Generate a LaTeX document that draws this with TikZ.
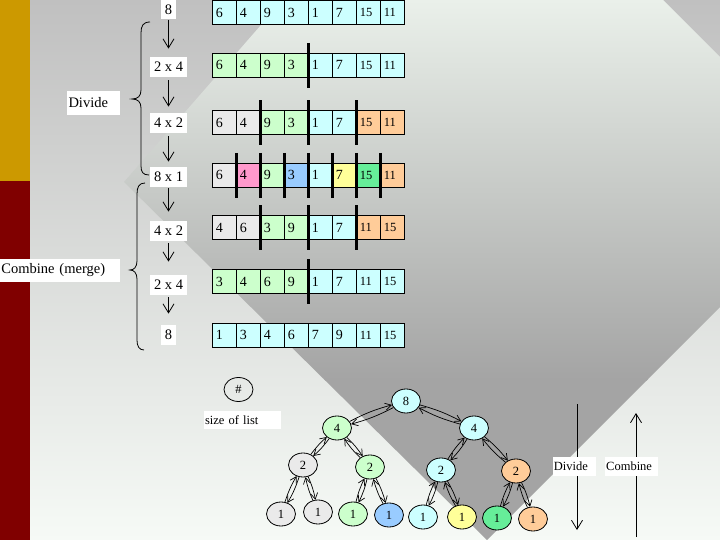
\documentclass[tikz,border=0pt]{standalone}
\usepackage{fontspec}
\setmainfont{Liberation Serif}
\usepackage{tikz}
\usetikzlibrary{shapes.geometric, arrows.meta}

\definecolor{slidegold}{HTML}{CC9900}
\definecolor{slidered}{HTML}{800000}
\definecolor{bgtop}{HTML}{C0C0C0}
\definecolor{bgmid}{HTML}{D2D6D2}
\definecolor{bgbot}{HTML}{F6FAF6}
\definecolor{diatop}{HTML}{EAF0EA}
\definecolor{diabot}{HTML}{A4A4A4}
\definecolor{cyancell}{HTML}{CCFFFF}
\definecolor{greencell}{HTML}{CCFFCC}
\definecolor{greycell}{HTML}{EAEAEA}
\definecolor{pinkcell}{HTML}{FF99CC}
\definecolor{bluecell}{HTML}{99CCFF}
\definecolor{yellowcell}{HTML}{FFFF99}
\definecolor{limecell}{HTML}{66EE99}
\definecolor{peachcell}{HTML}{FFCC99}

% two digit values are set a bit smaller
\newcommand{\cellnum}[1]{\ifnum#1>9 \fontsize{12.5}{14}\selectfont\fi #1}
% one row of eight cells: name prefix, y, list of value/colour
\newcommand{\arrayrow}[3]{%
  \foreach \val/\col [count=\i] in {#3}
    \node[cell, fill=\col] (#1\i) at ({212+24*(\i-1)},#2) {\cellnum{\val}};}
% heavy split line right of a cell
\newcommand{\splitbar}[1]{%
  \draw[bar] ([yshift=10pt]#1.north east) -- ([yshift=-10pt]#1.south east);}
% divide and combine arrows between two tree nodes
\newcommand{\twoway}[2]{%
  \draw[tedge] (#1) to[bend left=6] (#2);
  \draw[tedge] (#2) to[bend left=6] (#1);}

\begin{document}
\begin{tikzpicture}[x=1pt, y=-1pt, line width=0.8pt,
    >={Straight Barb[length=9pt,width=11pt]},
    cell/.style={draw, anchor=west, minimum width=24pt, minimum height=24pt,
      inner sep=0pt, text width=17pt, align=left, font=\fontsize{14}{16}\selectfont},
    bar/.style={line width=3pt},
    lbl/.style={fill=white, inner xsep=4pt, inner ysep=0pt, minimum height=20pt,
      font=\fontsize{14.5}{17}\selectfont},
    note/.style={fill=white, inner xsep=1.5pt, inner ysep=0pt, align=left,
      font=\fontsize{14.5}{17}\selectfont},
    smallnote/.style={note, inner xsep=1pt, minimum height=19pt,
      font=\fontsize{12.5}{14}\selectfont},
    tnode/.style={ellipse, draw, minimum width=29pt, minimum height=24pt,
      inner sep=0pt, font=\fontsize{12.5}{14}\selectfont},
    tedge/.style={->, >={Straight Barb[length=6pt,width=7pt]}, line width=0.7pt}]
  \useasboundingbox (0,0) rectangle (720,540);
  % Slide background
  \shade[top color=bgtop, middle color=bgmid, bottom color=bgbot] (0,0) rectangle (720,540);
  \begin{scope}
    \clip (124,182) -- (460,-203) -- (845,182) -- (487,540) -- cycle;
    \shade[top color=diatop, bottom color=diabot] (0,0) rectangle (720,380);
    \fill[diabot] (0,379) rectangle (720,540);
  \end{scope}
  \fill[slidegold] (0,0) rectangle (30,181);
  \fill[slidered] (0,181) rectangle (30,540);

  % The list at each step
  \arrayrow{a}{12.5}{6/cyancell,4/cyancell,9/cyancell,3/cyancell,1/cyancell,7/cyancell,15/cyancell,11/cyancell}
  \arrayrow{b}{65.3}{6/greencell,4/greencell,9/greencell,3/greencell,1/cyancell,7/cyancell,15/cyancell,11/cyancell}
  \arrayrow{c}{122.7}{6/greycell,4/greycell,9/greencell,3/greencell,1/cyancell,7/cyancell,15/peachcell,11/peachcell}
  \arrayrow{d}{175.3}{6/greycell,4/pinkcell,9/greencell,3/bluecell,1/cyancell,7/yellowcell,15/limecell,11/peachcell}
  \arrayrow{e}{227.5}{4/greycell,6/greycell,3/greencell,9/greencell,1/cyancell,7/cyancell,11/peachcell,15/peachcell}
  \arrayrow{f}{281.7}{3/greencell,4/greencell,6/greencell,9/greencell,1/cyancell,7/cyancell,11/cyancell,15/cyancell}
  \arrayrow{g}{335}{1/cyancell,3/cyancell,4/cyancell,6/cyancell,7/cyancell,9/cyancell,11/cyancell,15/cyancell}
  % Split lines
  \splitbar{b4}
  \foreach \k in {2,4,6} {\splitbar{c\k} \splitbar{e\k}}
  \foreach \k in {1,...,7} {\splitbar{d\k}}
  \splitbar{f4}

  % Number of sub-lists x their size
  \node[lbl] (s8a) at (168.5,9.5) {8};
  \node[lbl] (s24a) at (168.5,67) {2 x 4};
  \node[lbl] (s42a) at (168.5,123) {4 x 2};
  \node[lbl] (s81) at (168.5,177) {8 x 1};
  \node[lbl] (s42b) at (168.5,231) {4 x 2};
  \node[lbl] (s24b) at (168.5,285) {2 x 4};
  \node[lbl] (s8b) at (168.5,335) {8};
  \draw[->, shorten >=8pt] (s8a) -- (s24a);
  \draw[->, shorten <=3pt, shorten >=6pt] (s24a) -- (s42a);
  \draw[->, shorten <=3pt, shorten >=5pt] (s42a) -- (s81);
  \draw[->, shorten <=1pt, shorten >=9pt] (s81) -- (s42b);
  \draw[->, shorten <=2pt, shorten >=13pt] (s42b) -- (s24b);
  \draw[->, shorten <=2pt, shorten >=11pt] (s24b) -- (s8b);

  % Braces
  \draw (150,22) .. controls (143,22) and (141,26) .. (141,33) -- (141,90)
    .. controls (141,96) and (138,99) .. (132,99) .. controls (138,99) and (141,102) .. (141,108)
    -- (141,166) .. controls (141,172) and (143,175) .. (149,175);
  \draw (145,183) .. controls (139,183) and (137,187) .. (137,194) -- (137,261)
    .. controls (137,267) and (134,270) .. (130,270) .. controls (134,270) and (137,273) .. (137,279)
    -- (137,340) .. controls (137,346) and (139,350) .. (144,350);
  \node[note, text width=50pt, minimum height=24pt] (divL) at (93.5,103) {Divide};
  \node[note, text width=117pt, minimum height=23pt] (combL) at (60,270.5) {Combine (merge)};

  % Key
  \node[tnode] (key) at (238.5,389.5) {\#};
  \node[smallnote, text width=75pt, minimum height=18pt] (keytxt) at (242.5,420) {size of list};

  % Tree of list sizes
  \node[tnode, fill=cyancell] (t8) at (406,401) {8};
  \node[tnode, fill=greencell] (t4a) at (337,428) {4};
  \node[tnode, fill=cyancell] (t4b) at (474,428) {4};
  \node[tnode, fill=greycell] (t2a) at (303,465) {2};
  \node[tnode, fill=greencell] (t2b) at (370,467) {2};
  \node[tnode, fill=cyancell] (t2c) at (441,470) {2};
  \node[tnode, fill=peachcell] (t2d) at (516,471) {2};
  \node[tnode, fill=greycell] (t1a) at (281,514) {1};
  \node[tnode, fill=greycell] (t1b) at (318,512) {1};
  \node[tnode, fill=greencell] (t1c) at (353,514) {1};
  \node[tnode, fill=bluecell] (t1d) at (389,515) {1};
  \node[tnode, fill=cyancell] (t1e) at (423,517) {1};
  \node[tnode, fill=yellowcell] (t1f) at (462,517) {1};
  \node[tnode, fill=limecell] (t1g) at (497,518) {1};
  \node[tnode, fill=peachcell] (t1h) at (533,519) {1};
  \twoway{t8}{t4a} \twoway{t8}{t4b}
  \twoway{t4a}{t2a} \twoway{t4a}{t2b}
  \twoway{t4b}{t2c} \twoway{t4b}{t2d}
  \twoway{t2a}{t1a} \twoway{t2a}{t1b}
  \twoway{t2b}{t1c} \twoway{t2b}{t1d}
  \twoway{t2c}{t1e} \twoway{t2c}{t1f}
  \twoway{t2d}{t1g} \twoway{t2d}{t1h}

  % Direction arrows
  \coordinate (dtop) at (577,404);
  \coordinate (dbot) at (577,530);
  \coordinate (cbot) at (636,537);
  \coordinate (ctop) at (636,413);
  \draw[->] (dtop) -- (dbot);
  \draw[->] (cbot) -- (ctop);
  \node[smallnote, text width=41pt] (divR) at (574.3,466.3) {Divide};
  \node[smallnote, text width=51pt] (combR) at (631.7,466.3) {Combine};
\end{tikzpicture}
\end{document}
